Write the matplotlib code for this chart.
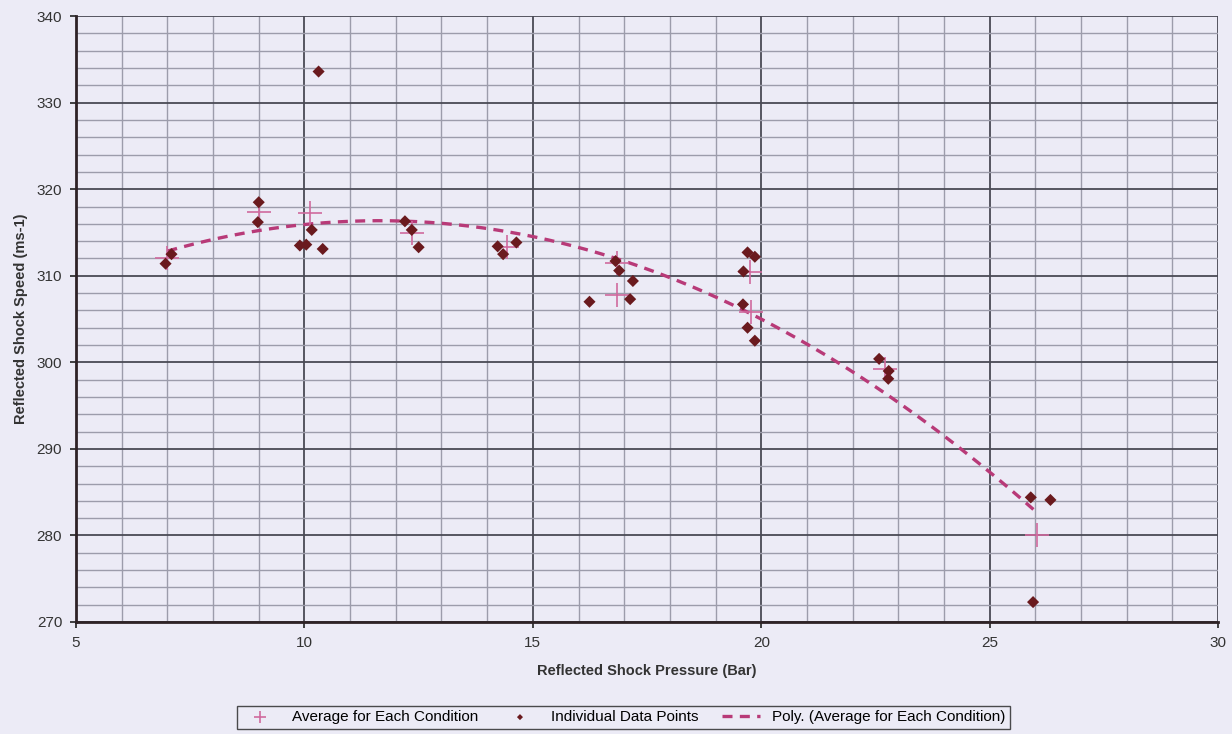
import numpy as np
import matplotlib.pyplot as plt
from matplotlib.ticker import MultipleLocator

plt.rcParams['font.family'] = ['Liberation Sans', 'DejaVu Sans']

# individual data points (pressure bar, speed m/s)
pts_x = [6.96, 7.09, 9.0, 8.98, 9.9, 10.04, 10.16, 10.31, 10.4,
         12.2, 12.35, 12.5, 14.23, 14.35, 14.64,
         16.24, 16.81, 16.89, 17.13, 17.19,
         19.6, 19.61, 19.7, 19.7, 19.86, 19.86,
         22.58, 22.78, 22.79, 25.9, 25.95, 26.33]
pts_y = [311.4, 312.5, 318.5, 316.2, 313.5, 313.6, 315.3, 333.6, 313.1,
         316.3, 315.3, 313.3, 313.4, 312.5, 313.85,
         307.0, 311.7, 310.6, 307.3, 309.4,
         306.7, 310.5, 312.7, 304.0, 312.2, 302.5,
         300.4, 298.1, 299.0, 284.4, 272.3, 284.1]

# averages for each condition
avg_x = [7.0, 9.0, 10.12, 12.35, 14.43, 16.85, 16.85, 19.76, 19.77, 22.7, 26.04]
avg_y = [312.1, 317.4, 317.2, 314.9, 313.3, 311.5, 307.8, 310.4, 305.8, 299.2, 280.1]

bg = '#ecebf6'
fig = plt.figure(figsize=(12.32, 7.34), dpi=100, facecolor=bg)
ax = fig.add_axes([0.0617, 0.1526, 0.927, 0.8254], facecolor=bg)

# polynomial trendline through the averages
coef = np.polyfit(avg_x, avg_y, 2)
tx = np.linspace(min(avg_x), max(avg_x), 200)
ax.plot(tx, np.polyval(coef, tx), color='#b83a78', lw=2.4, ls=(0, (3, 2.2)),
        zorder=3, label='Poly. (Average for Each Condition)')

ax.scatter(avg_x, avg_y, marker='+', s=300, color='#d06a9e', linewidths=1.2,
           zorder=4, label='Average for Each Condition')
ax.scatter(pts_x, pts_y, marker='D', s=38, color='#6a1a1e', edgecolors='none',
           zorder=5, label='Individual Data Points')

ax.set_xlim(5, 30)
ax.set_ylim(270, 340)
ax.xaxis.set_major_locator(MultipleLocator(5))
ax.xaxis.set_minor_locator(MultipleLocator(1))
ax.yaxis.set_major_locator(MultipleLocator(10))
ax.yaxis.set_minor_locator(MultipleLocator(2))
ax.grid(which='minor', color='#9c9cab', lw=1.0)
ax.grid(which='major', color='#4a4a55', lw=1.3)
ax.set_axisbelow(True)

for s in ['top', 'right']:
    ax.spines[s].set_visible(False)
for s in ['left', 'bottom']:
    ax.spines[s].set_color('#2e2226')
    ax.spines[s].set_linewidth(2)

ax.tick_params(which='major', direction='out', length=4, width=1.2,
               labelsize=11, pad=6, colors='#222', labelcolor='#333')
ax.tick_params(which='minor', length=0)

ax.set_xlabel('Reflected Shock Pressure (Bar)', fontsize=10.5, fontweight='bold',
              color='#333', labelpad=10)
ax.set_ylabel('Reflected Shock Speed (ms-1)', fontsize=10.5, fontweight='bold',
              color='#333', labelpad=6)

h, l = ax.get_legend_handles_labels()
order = [1, 2, 0]
leg = fig.legend([h[i] for i in order], [l[i] for i in order], loc='center',
                 bbox_to_anchor=(0.506, 0.023), ncol=3, fontsize=11,
                 frameon=True, fancybox=False, edgecolor='#222',
                 facecolor=bg, handlelength=2.5, columnspacing=1.5,
                 borderpad=0.3, markerscale=0.5)
leg.get_frame().set_linewidth(1.0)

plt.savefig('out.png', dpi=100, facecolor=bg)
